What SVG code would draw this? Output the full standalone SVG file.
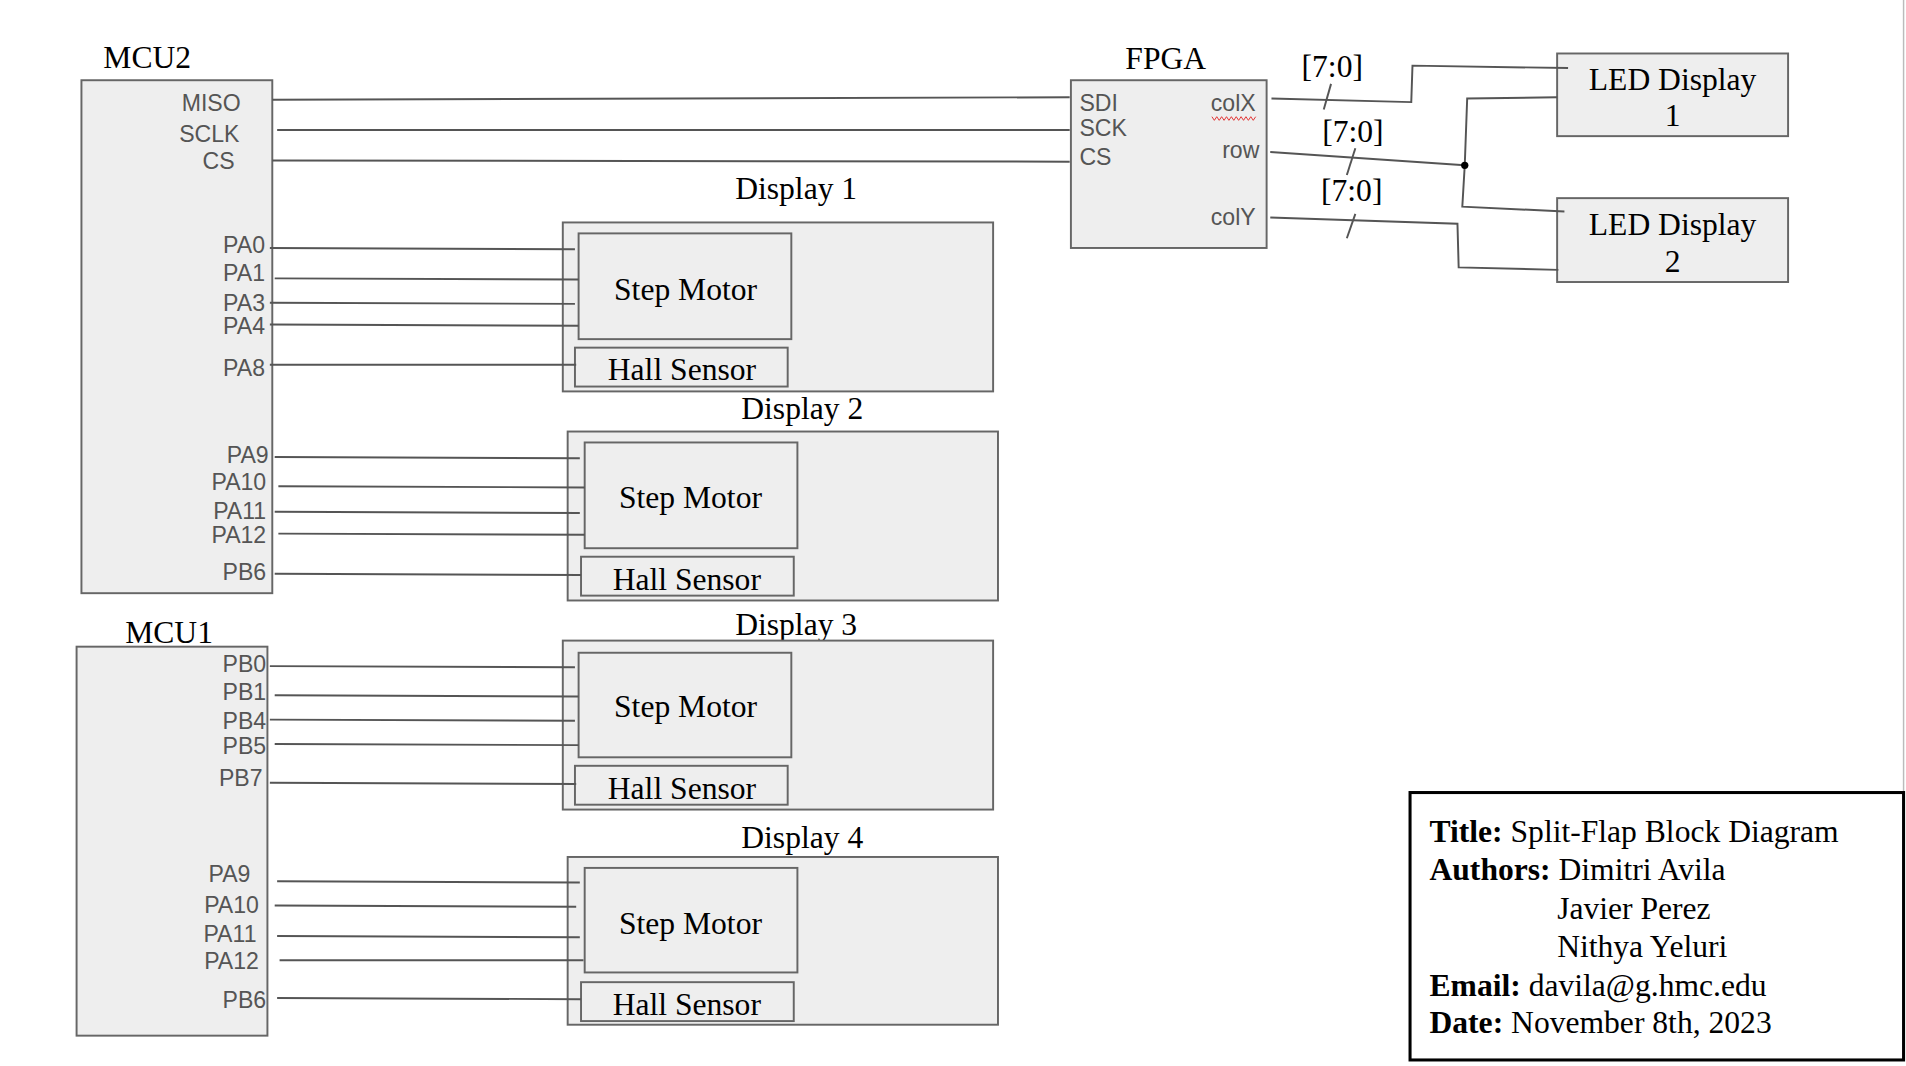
<svg xmlns="http://www.w3.org/2000/svg" width="1906" height="1066" viewBox="0 0 1906 1066">
<style>
.box{fill:#eeeeee;stroke:#666;stroke-width:1.6}
.w{fill:none;stroke:#555;stroke-width:1.6}
.t{font-family:"Liberation Serif","Times New Roman",serif;font-size:26px;fill:#000}
.p{font-family:"Liberation Sans",Arial,sans-serif;font-size:19px;fill:#555}
.c{text-anchor:middle}
.r{text-anchor:end}
.b{font-weight:bold}
</style>
<rect width="1906" height="1066" fill="#fff"/>
<g transform="scale(1.21556)">
<line x1="1566" y1="0" x2="1566" y2="652" stroke="#bbb" stroke-width="1.2"/>

<g id="mcu2">
<text class="t" x="85" y="56">MCU2</text>
<rect class="box" x="67" y="66" width="157" height="422"/>
<text class="p r" x="198" y="91">MISO</text>
<text class="p r" x="197" y="117">SCLK</text>
<text class="p r" x="193" y="139">CS</text>
<text class="p r" x="218" y="208">PA0</text>
<text class="p r" x="218" y="231">PA1</text>
<text class="p r" x="218" y="256">PA3</text>
<text class="p r" x="218" y="275">PA4</text>
<text class="p r" x="218" y="309">PA8</text>
<text class="p r" x="221" y="381">PA9</text>
<text class="p r" x="219" y="403">PA10</text>
<text class="p r" x="219" y="427">PA11</text>
<text class="p r" x="219" y="447">PA12</text>
<text class="p r" x="219" y="477">PB6</text>
</g>

<g id="mcu1">
<text class="t" x="103" y="529">MCU1</text>
<rect class="box" x="63" y="532" width="157" height="320"/>
<text class="p r" x="219" y="553">PB0</text>
<text class="p r" x="219" y="576">PB1</text>
<text class="p r" x="219" y="600">PB4</text>
<text class="p r" x="219" y="620">PB5</text>
<text class="p r" x="216" y="647">PB7</text>
<text class="p r" x="206" y="726">PA9</text>
<text class="p r" x="213" y="751">PA10</text>
<text class="p r" x="211" y="775">PA11</text>
<text class="p r" x="213" y="797">PA12</text>
<text class="p r" x="219" y="829">PB6</text>
</g>

<g id="display1">
<text class="t c" x="655" y="164">Display 1</text>
<rect class="box" x="463" y="183" width="354" height="139"/>
<rect class="box" x="476" y="192" width="175" height="87"/>
<text class="t c" x="564" y="247">Step Motor</text>
<rect class="box" x="473" y="286" width="175" height="32"/>
<text class="t c" x="561" y="313">Hall Sensor</text>
</g>

<g id="display2">
<text class="t c" x="660" y="345">Display 2</text>
<rect class="box" x="467" y="355" width="354" height="139"/>
<rect class="box" x="481" y="364" width="175" height="87"/>
<text class="t c" x="568" y="418">Step Motor</text>
<rect class="box" x="478" y="458" width="175" height="32"/>
<text class="t c" x="565" y="485">Hall Sensor</text>
</g>

<g id="display3">
<text class="t c" x="655" y="522">Display 3</text>
<rect class="box" x="463" y="527" width="354" height="139"/>
<rect class="box" x="476" y="537" width="175" height="86"/>
<text class="t c" x="564" y="590">Step Motor</text>
<rect class="box" x="473" y="630" width="175" height="32"/>
<text class="t c" x="561" y="657">Hall Sensor</text>
</g>

<g id="display4">
<text class="t c" x="660" y="698">Display 4</text>
<rect class="box" x="467" y="705" width="354" height="138"/>
<rect class="box" x="481" y="714" width="175" height="86"/>
<text class="t c" x="568" y="768">Step Motor</text>
<rect class="box" x="478" y="808" width="175" height="32"/>
<text class="t c" x="565" y="835">Hall Sensor</text>
</g>

<g id="fpga">
<text class="t c" x="959" y="57">FPGA</text>
<rect class="box" x="881" y="66" width="161" height="138"/>
<text class="p" x="888" y="91">SDI</text>
<text class="p" x="888" y="112">SCK</text>
<text class="p" x="888" y="136">CS</text>
<text class="p r" x="1033" y="91">colX</text>
<polyline points="997,96 999,99 1001,96 1003,99 1005,96 1007,99 1009,96 1011,99 1013,96 1015,99 1017,96 1019,99 1021,96 1023,99 1025,96 1027,99 1029,96 1031,99 1033,96" fill="none" stroke="#e03030" stroke-width="0.8"/>
<text class="p r" x="1036" y="130">row</text>
<text class="p r" x="1033" y="185">colY</text>
</g>

<g id="led1">
<rect class="box" x="1281" y="44" width="190" height="68"/>
<text class="t c" x="1376" y="74">LED Display</text>
<text class="t c" x="1376" y="104">1</text>
</g>

<g id="led2">
<rect class="box" x="1281" y="163" width="190" height="69"/>
<text class="t c" x="1376" y="193">LED Display</text>
<text class="t c" x="1376" y="224">2</text>
</g>

<g id="connectors">
<path class="w" d="M224,82 L880,80"/>
<path class="w" d="M228,107 L880,107"/>
<path class="w" d="M224,132 L880,133"/>
<path class="w" d="M222,204 L473,205"/>
<path class="w" d="M226,229 L476,230"/>
<path class="w" d="M222,249 L473,250"/>
<path class="w" d="M222,267 L476,268"/>
<path class="w" d="M222,300 L474,300"/>
<path class="w" d="M226,376 L477,377"/>
<path class="w" d="M229,400 L481,401"/>
<path class="w" d="M226,421 L477,422"/>
<path class="w" d="M229,439 L481,440"/>
<path class="w" d="M226,472 L478,473"/>
<path class="w" d="M222,548 L473,549"/>
<path class="w" d="M226,572 L476,573"/>
<path class="w" d="M222,592 L473,593"/>
<path class="w" d="M226,612 L476,613"/>
<path class="w" d="M222,644 L474,645"/>
<path class="w" d="M228,725 L477,726"/>
<path class="w" d="M226,745 L474,746"/>
<path class="w" d="M228,770 L477,771"/>
<path class="w" d="M230,790 L480,790"/>
<path class="w" d="M228,821 L478,822"/>
<path class="w" d="M1046,81 L1161,84 L1162,54 L1290,56"/>
<path class="w" d="M1045,125 L1205,136"/>
<path class="w" d="M1205,136 L1207,81 L1281,80"/>
<path class="w" d="M1205,136 L1203,170 L1287,174"/>
<path class="w" d="M1045,179 L1199,184 L1200,220 L1282,222"/>
<circle cx="1205" cy="136" r="3" fill="#000"/>
<path class="w" d="M1095,69 L1089,90"/>
<path class="w" d="M1115,122 L1108,144"/>
<path class="w" d="M1115,176 L1108,196"/>
<text class="t c" x="1096" y="63">[7:0]</text>
<text class="t c" x="1113" y="117">[7:0]</text>
<text class="t c" x="1112" y="165">[7:0]</text>
</g>

<g id="titleblock">
<rect x="1160" y="652" width="406" height="220" fill="#fff" stroke="#000" stroke-width="2.5"/>
<text class="t" x="1176" y="693"><tspan class="b">Title:</tspan> Split-Flap Block Diagram</text>
<text class="t" x="1176" y="724"><tspan class="b">Authors:</tspan> Dimitri Avila</text>
<text class="t" x="1281" y="756">Javier Perez</text>
<text class="t" x="1281" y="787">Nithya Yeluri</text>
<text class="t" x="1176" y="819"><tspan class="b">Email:</tspan> davila@g.hmc.edu</text>
<text class="t" x="1176" y="850"><tspan class="b">Date:</tspan> November 8th, 2023</text>
</g>
</g>
</svg>
